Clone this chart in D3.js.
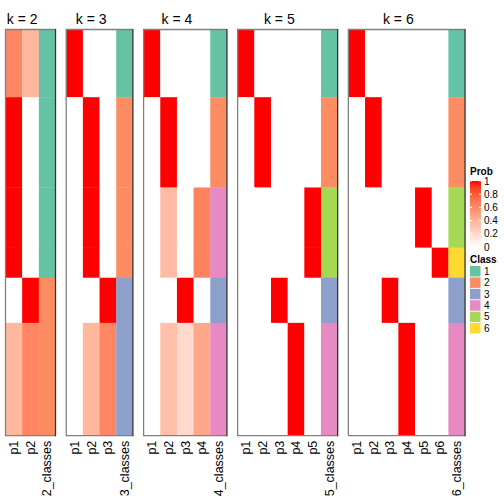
<!DOCTYPE html>
<html><head><meta charset="utf-8">
<script src="https://cdn.jsdelivr.net/npm/d3@7"></script>
<style>body{margin:0;background:#fff}svg{display:block}text{font-family:"Liberation Sans",Arial,sans-serif}</style>
</head><body>
<script>
// sample groups (rows in order, top to bottom) and their sizes
const groupSizes = [9, 12, 8, 4, 6, 15];
const kValues = [2, 3, 4, 5, 6];
// membership probabilities per k, per group: [p1..pk]
const membership = {
  2: [[0.62,0.38],[1,0],[1,0],[1,0],[0,1],[0.38,0.62]],
  3: [[1,0,0],[0,1,0],[0,1,0],[0,1,0],[0,0,1],[0,0.38,0.62]],
  4: [[1,0,0,0],[0,1,0,0],[0,0.36,0,0.64],[0,0.36,0,0.64],[0,0,1,0],[0,0.34,0.2,0.46]],
  5: [[1,0,0,0,0],[0,1,0,0,0],[0,0,0,0,1],[0,0,0,0,1],[0,0,1,0,0],[0,0,0,1,0]],
  6: [[1,0,0,0,0,0],[0,1,0,0,0,0],[0,0,0,0,1,0],[0,0,0,0,0,1],[0,0,1,0,0,0],[0,0,0,1,0,0]]
};
const classes = {
  2: [1,1,1,1,2,2],
  3: [1,2,2,2,3,3],
  4: [1,2,4,4,3,4],
  5: [1,2,5,5,3,4],
  6: [1,2,5,6,3,4]
};
const classLabels = ["1","2","3","4","5","6"];
const classColors = ["#66C2A5","#FC8D62","#8DA0CB","#E78AC3","#A6D854","#FFD92F"];
const probTicks = [0, 0.2, 0.4, 0.6, 0.8, 1];

const W = 504, H = 504;
const svg = d3.select("body").append("svg").attr("width", W).attr("height", H);

const colW = 16.67, gap = 10.7, x0 = 5.5, yTop = 29.5, yBottom = 435.7;
const probColor = d3.scaleLinear().domain([0,1]).range(["#ffffff","#ff0000"]).interpolate(d3.interpolateLab);
const classColor = d3.scaleOrdinal().domain([1,2,3,4,5,6]).range(classColors);

// cumulative rows
const starts = [];
let acc = 0;
groupSizes.forEach(s => { starts.push(acc); acc += s; });
const y = d3.scaleLinear().domain([0, acc]).range([yTop, yBottom]);

let px = x0;
kValues.forEach(k => {
  const cols = d3.range(k).map(i => "p" + (i+1)).concat([k + "_classes"]);
  const x = d3.scaleBand().domain(cols).range([px, px + colW * cols.length]);
  const g = svg.append("g");
  membership[k].forEach((row, gi) => {
    row.forEach((v, ci) => {
      g.append("rect").attr("x", x(cols[ci])).attr("width", x.bandwidth() + 0.3)
        .attr("y", y(starts[gi])).attr("height", y(starts[gi] + groupSizes[gi]) - y(starts[gi]) + 0.3)
        .attr("fill", probColor(v));
    });
    g.append("rect").attr("x", x(cols[k])).attr("width", x.bandwidth())
      .attr("y", y(starts[gi])).attr("height", y(starts[gi] + groupSizes[gi]) - y(starts[gi]) + 0.3)
      .attr("fill", classColor(classes[k][gi]));
  });
  // outer frame: gray left/top/bottom, dark right edge
  const xr = px + colW * (k + 1);
  g.append("path").attr("d", `M${xr},${yTop}H${px}V${yBottom}H${xr}`)
    .attr("fill", "none").attr("stroke", "#808080").attr("stroke-width", 1.3);
  g.append("line").attr("x1", xr).attr("x2", xr).attr("y1", yTop - 0.6).attr("y2", yBottom + 0.6)
    .attr("stroke", "#333").attr("stroke-width", 1.3);
  // title centered over membership columns
  g.append("text").attr("x", px + colW * k / 2).attr("y", 24).attr("text-anchor", "middle")
    .attr("font-size", 14).attr("fill", "#000").text("k = " + k);
  // column labels
  cols.forEach(c => {
    const cx = x(c) + x.bandwidth() / 2;
    g.append("text").attr("transform", `translate(${cx + 4.3},${yBottom + 5}) rotate(-90)`)
      .attr("text-anchor", "end").attr("font-size", 12.5).attr("fill", "#000").text(c);
  });
  px += colW * cols.length + gap;
});

// legend: Prob
const lx = 470;
svg.append("text").attr("x", lx).attr("y", 174.5).attr("font-size", 10).attr("font-weight", "bold").text("Prob");
const defs = svg.append("defs");
const grad = defs.append("linearGradient").attr("id", "pg").attr("x1", 0).attr("x2", 0).attr("y1", 1).attr("y2", 0);
d3.range(0, 1.01, 0.1).forEach(t => grad.append("stop").attr("offset", t).attr("stop-color", probColor(t)));
const ly = d3.scaleLinear().domain([0,1]).range([247, 181]);
svg.append("rect").attr("x", lx).attr("y", ly(1)).attr("width", 11).attr("height", ly(0) - ly(1)).attr("fill", "url(#pg)");
probTicks.forEach(t => {
  svg.append("line").attr("x1", lx).attr("x2", lx + 2).attr("y1", ly(t)).attr("y2", ly(t)).attr("stroke", "#fff").attr("stroke-width", 1);
  svg.append("line").attr("x1", lx + 9).attr("x2", lx + 11).attr("y1", ly(t)).attr("y2", ly(t)).attr("stroke", "#fff").attr("stroke-width", 1);
  svg.append("text").attr("x", lx + 14).attr("y", ly(t) + 3.6).attr("font-size", 10).text(d3.format("")(t));
});
// legend: Class
svg.append("text").attr("x", lx).attr("y", 263).attr("font-size", 10).attr("font-weight", "bold").text("Class");
const sy = d3.scaleBand().domain(classLabels).range([266, 333.5]).paddingInner(0.08);
classLabels.forEach((c, i) => {
  svg.append("rect").attr("x", lx).attr("y", sy(c)).attr("width", 10.5).attr("height", sy.bandwidth()).attr("fill", classColors[i]);
  svg.append("text").attr("x", lx + 14).attr("y", sy(c) + sy.bandwidth()/2 + 3.6).attr("font-size", 10).text(c);
});
</script>
</body></html>
